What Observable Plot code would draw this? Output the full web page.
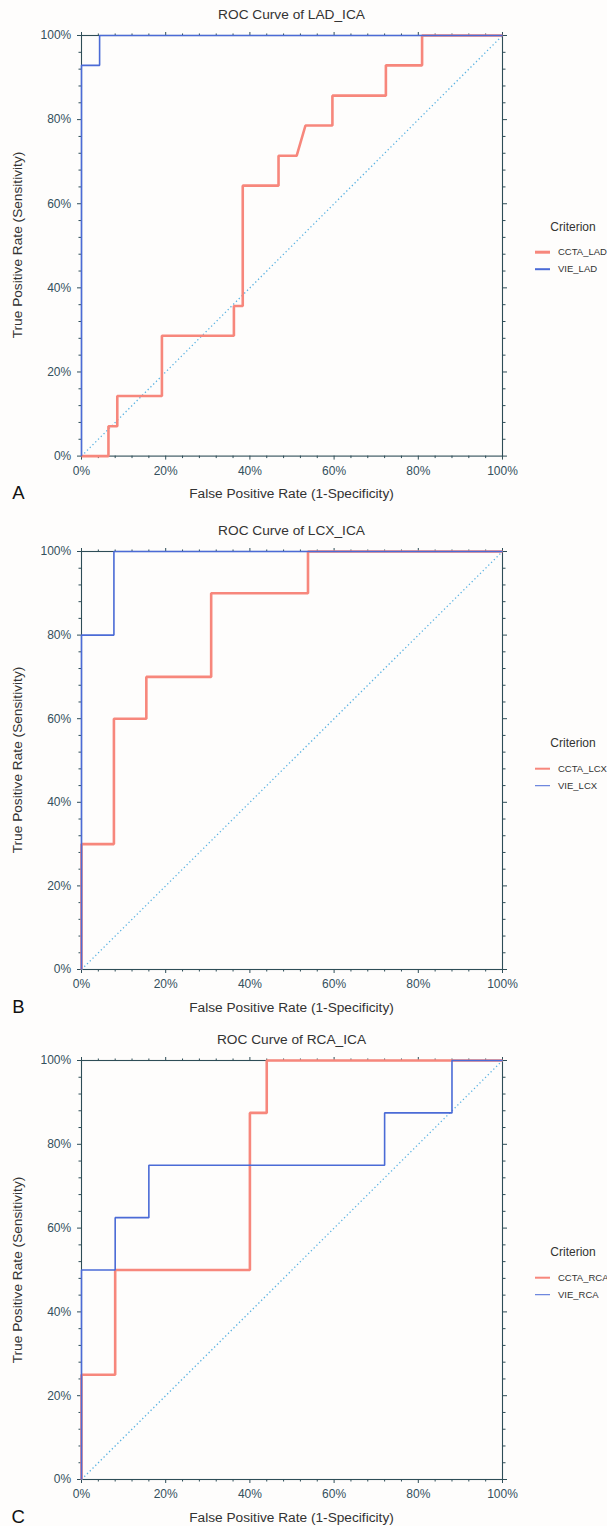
<!DOCTYPE html>
<html><head><meta charset="utf-8">
<script src="https://cdn.jsdelivr.net/npm/d3@7"></script>
<script src="https://cdn.jsdelivr.net/npm/@observablehq/plot@0.6"></script>
<style>
body{margin:0;background:#fefdfc;}
#root{position:relative;width:607px;height:1526px;overflow:hidden;font-family:"Liberation Sans",Arial,sans-serif;color:#333;background:#fefdfc;}
.abs{position:absolute;white-space:nowrap;line-height:1;}
.ctr{transform:translate(-50%,-50%);}
.title{font-size:13.7px;color:#333;}
.xlab{font-size:13.7px;color:#333;}
.ylab{font-size:13.7px;color:#333;transform:translate(-50%,-50%) rotate(-90deg);}
.letter{font-size:18.5px;color:#111;}
.crit{font-size:12px;color:#333;}
.item{font-size:9.5px;color:#333;transform:translateY(-50%);}
.sw{position:absolute;width:15px;transform:translateY(-50%);}
svg text{fill:#34505c;}
</style>
</head><body><div id="root"></div>
<script>
// ---- data (percent) ----
const titles = ["ROC Curve of LAD_ICA", "ROC Curve of LCX_ICA", "ROC Curve of RCA_ICA"];
const letters = ["A", "B", "C"];
const cctaNames = ["CCTA_LAD", "CCTA_LCX", "CCTA_RCA"];
const vieNames = ["VIE_LAD", "VIE_LCX", "VIE_RCA"];

const cctaLadFpr = [0, 6.4, 6.4, 8.5, 8.5, 19.1, 19.1, 36.2, 36.2, 38.3, 38.3, 46.8, 46.8, 51.1, 53.2, 59.6, 59.6, 72.3, 72.3, 80.9, 80.9, 100];
const cctaLadTpr = [0, 0, 7.1, 7.1, 14.3, 14.3, 28.6, 28.6, 35.7, 35.7, 64.3, 64.3, 71.4, 71.4, 78.6, 78.6, 85.7, 85.7, 92.9, 92.9, 100, 100];
const vieLadFpr = [0, 0, 4.3, 4.3, 100];
const vieLadTpr = [0, 92.9, 92.9, 100, 100];

const cctaLcxFpr = [0, 0, 7.7, 7.7, 15.4, 15.4, 30.8, 30.8, 53.8, 53.8, 100];
const cctaLcxTpr = [0, 30, 30, 60, 60, 70, 70, 90, 90, 100, 100];
const vieLcxFpr = [0, 0, 7.7, 7.7, 100];
const vieLcxTpr = [0, 80, 80, 100, 100];

const cctaRcaFpr = [0, 0, 8, 8, 40, 40, 44, 44, 100];
const cctaRcaTpr = [0, 25, 25, 50, 50, 87.5, 87.5, 100, 100];
const vieRcaFpr = [0, 0, 8, 8, 16, 16, 72, 72, 88, 88, 100];
const vieRcaTpr = [0, 50, 50, 62.5, 62.5, 75, 75, 87.5, 87.5, 100, 100];

const diagonal = [0, 100];
const majorTicks = [0, 20, 40, 60, 80, 100];
const minorTicks = [4, 8, 12, 16, 24, 28, 32, 36, 44, 48, 52, 56, 64, 68, 72, 76, 84, 88, 92, 96];

// ---- layout ----
const panels = [
  {top: 34.7, h: 420.6, ccta: [cctaLadFpr, cctaLadTpr], vie: [vieLadFpr, vieLadTpr]},
  {top: 551, h: 418, ccta: [cctaLcxFpr, cctaLcxTpr], vie: [vieLcxFpr, vieLcxTpr]},
  {top: 1060, h: 419, ccta: [cctaRcaFpr, cctaRcaTpr], vie: [vieRcaFpr, vieRcaTpr]}
];
const RED = "#f7877c", BLUE = "#4b6bd6", DIAG = "#5ab2e2", AXIS = "#2e4d57";
const L = 81, R = 502, MT = 8, MB = 24;
const root = document.getElementById("root");

function pts(fpr, tpr) { return fpr.map((x, i) => ({x, y: tpr[i]})); }
function div(cls, text, css) {
  const d = document.createElement("div");
  d.className = "abs " + cls;
  d.textContent = text;
  Object.assign(d.style, css);
  root.appendChild(d);
  return d;
}

panels.forEach((p, i) => {
  const fmt = d => d + "%";
  const none = () => "";
  const svg = Plot.plot({
    width: 607,
    height: p.h + MT + MB,
    marginLeft: L, marginRight: 607 - R, marginTop: MT, marginBottom: MB,
    x: {domain: [0, 100]},
    y: {domain: [0, 100]},
    style: {fontFamily: "'Liberation Sans', Arial, sans-serif", fontSize: "12px", color: AXIS, background: "transparent", overflow: "visible"},
    marks: [
      Plot.frame({stroke: AXIS, strokeWidth: 1.1}),
      Plot.axisX(majorTicks, {anchor: "bottom", tickSize: 4, tickPadding: 6.4, tickFormat: fmt, label: null}),
      Plot.axisX(minorTicks, {anchor: "bottom", tickSize: 2.5, tickFormat: none, label: null}),
      Plot.axisX(majorTicks, {anchor: "top", tickSize: 4, tickFormat: none, label: null}),
      Plot.axisX(minorTicks, {anchor: "top", tickSize: 2.5, tickFormat: none, label: null}),
      Plot.axisY(majorTicks, {anchor: "left", tickSize: 4, tickPadding: 6.3, tickFormat: fmt, label: null}),
      Plot.axisY(minorTicks, {anchor: "left", tickSize: 2.5, tickFormat: none, label: null}),
      Plot.axisY(majorTicks, {anchor: "right", tickSize: 4, tickFormat: none, label: null}),
      Plot.axisY(minorTicks, {anchor: "right", tickSize: 2.5, tickFormat: none, label: null}),
      Plot.line(pts(diagonal, diagonal), {x: "x", y: "y", stroke: DIAG, strokeWidth: 1.3, strokeDasharray: "1.3,2.6", strokeLinecap: "butt"}),
      Plot.line(pts(p.ccta[0], p.ccta[1]), {x: "x", y: "y", stroke: RED, strokeWidth: 2.6, strokeLinejoin: "miter", strokeLinecap: "butt"}),
      Plot.line(pts(p.vie[0], p.vie[1]), {x: "x", y: "y", stroke: BLUE, strokeWidth: 1.6, strokeLinejoin: "miter", strokeLinecap: "butt"})
    ]
  });
  svg.style.position = "absolute";
  svg.style.left = "0px";
  svg.style.top = (p.top - MT) + "px";
  root.appendChild(svg);

  const cx = (L + R) / 2;
  const bottom = p.top + p.h;
  div("title ctr", titles[i], {left: cx + "px", top: (p.top - 20) + "px"});
  div("xlab ctr", "False Positive Rate (1-Specificity)", {left: cx + "px", top: (bottom + 39) + "px"});
  div("ylab", "True Positive Rate (Sensitivity)", {left: "18.3px", top: (p.top + p.h / 2) + "px"});
  div("letter ctr", letters[i], {left: "18.3px", top: (bottom + 38) + "px"});
  // legend
  div("crit ctr", "Criterion", {left: "573px", top: (p.top + 192) + "px"});
  const sw1 = document.createElement("div"); sw1.className = "sw";
  Object.assign(sw1.style, {left: "535px", top: (p.top + 217.6) + "px", height: "2.6px", background: RED});
  root.appendChild(sw1);
  div("item", cctaNames[i], {left: "558px", top: (p.top + 217.6) + "px"});
  const sw2 = document.createElement("div"); sw2.className = "sw";
  Object.assign(sw2.style, {left: "535px", top: (p.top + 234.6) + "px", height: "1.6px", background: BLUE});
  root.appendChild(sw2);
  div("item", vieNames[i], {left: "558px", top: (p.top + 234.6) + "px"});
});
</script>
</body></html>
